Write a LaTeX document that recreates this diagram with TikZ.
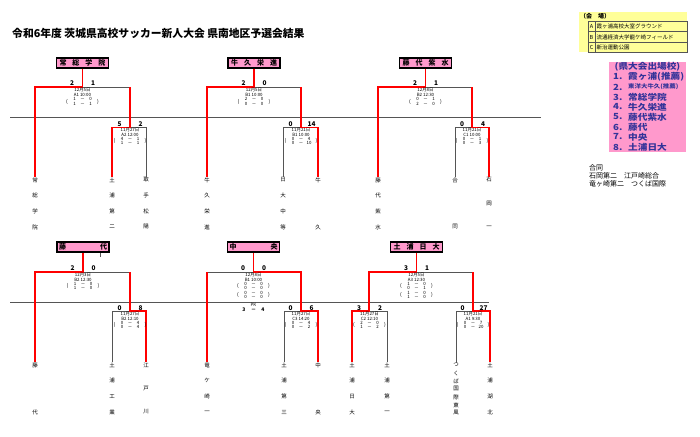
\documentclass[tikz,border=0pt]{standalone}
\usepackage{fontspec}
\usepackage{graphicx}
\setmainfont{Noto Sans CJK JP}
\newfontfamily\wideface[FakeStretch=1.15]{Noto Sans CJK JP}
\definecolor{pinkbox}{RGB}{255,153,204}
\definecolor{navy}{RGB}{51,51,153}
\definecolor{lightyel}{RGB}{255,255,153}
\definecolor{linegray}{RGB}{85,85,85}
\newcommand{\pts}[2]{\makebox[4pt]{#1}\makebox[12pt]{－}\makebox[4pt]{#2}}
\newcommand{\matchinfo}[7]{%
  \node[info] (#1-d) at (#2,#3) {#4};
  \node[info] (#1-c) at (#2,#3+5) {#5};
  \node[info] (#1-r1) at (#2,#3+9.3) {#6};
  \node[info] (#1-r2) at (#2,#3+13.8) {#7};
  \node[par] (#1-pl) at (#2-15.5,#3+11.5) {(};
  \node[par] (#1-pr) at (#2+15.5,#3+11.5) {)};
}

\begin{document}
\begin{tikzpicture}[x=1pt, y=-1pt,
    win/.style={draw=red, line width=1.4pt},
    lose/.style={draw=linegray, line width=0.7pt},
    sep/.style={draw=linegray, line width=0.8pt},
    champ/.style={draw=black, line width=1.2pt, fill=pinkbox, minimum width=52pt, minimum height=10pt, inner sep=0pt, font=\bfseries\fontsize{7}{7}\selectfont},
    score/.style={inner sep=0pt, font=\bfseries\fontsize{6.5}{6.5}\selectfont},
    info/.style={inner sep=0pt, font=\fontsize{4.4}{4.4}\selectfont},
    par/.style={inner sep=0pt, font=\fontsize{5}{5}\selectfont},
    team/.style={inner sep=0pt, font=\fontsize{5.5}{5.5}\selectfont},
    qual/.style={inner sep=0pt, text=navy, font=\wideface\bfseries\fontsize{8.4}{8.4}\selectfont},
    qsmall/.style={inner sep=0pt, text=navy, font=\wideface\bfseries\fontsize{5.6}{5.6}\selectfont},
    legend/.style={inner sep=0pt, font=\fontsize{5.5}{5.5}\selectfont}]
  \useasboundingbox (0,0) rectangle (700,436);

  \node[anchor=west, inner sep=0pt, font=\bfseries\fontsize{10.8}{10.8}\selectfont] (title) at (12,33) {令和6年度 茨城県高校サッカー新人大会 県南地区予選会結果};

  \draw[sep] (10,117) -- (541,117);
  \draw[sep] (10,302) -- (489,302);

  % top teams
  \foreach \ch [count=\i] in {常,総,学,院} \node[team] (js-\i) at (35,164.33+15.67*\i) {\ch};
  \foreach \ch [count=\i] in {土,浦,第,二} \node[team] (ud2-\i) at (112,164.33+15.67*\i) {\ch};
  \foreach \ch [count=\i] in {取,手,松,陽} \node[team] (ts-\i) at (146,164.33+15.67*\i) {\ch};
  \foreach \ch [count=\i] in {牛,久,栄,進} \node[team] (ue-\i) at (207,164.33+15.67*\i) {\ch};
  \foreach \ch [count=\i] in {日,大,中,等} \node[team] (nd-\i) at (283,164.33+15.67*\i) {\ch};
  \foreach \ch [count=\i] in {牛,久} \node[team] (uk-\i) at (318,133+47*\i) {\ch};
  \foreach \ch [count=\i] in {藤,代,紫,水} \node[team] (fs-\i) at (378,164.33+15.67*\i) {\ch};
  \foreach \ch [count=\i] in {合,同} \node[team] (go-\i) at (455,133+47*\i) {\ch};
  \foreach \ch [count=\i] in {石,岡,一} \node[team] (ia-\i) at (489,156.5+23.5*\i) {\ch};

  % bottom teams
  \foreach \ch [count=\i] in {藤,代} \node[team] (fj-\i) at (35,318+47*\i) {\ch};
  \foreach \ch [count=\i] in {土,浦,工,業} \node[team] (uko-\i) at (112,349.33+15.67*\i) {\ch};
  \foreach \ch [count=\i] in {江,戸,川} \node[team] (ed-\i) at (146,341.5+23.5*\i) {\ch};
  \foreach \ch [count=\i] in {竜,ケ,崎,一} \node[team] (ry-\i) at (207,349.33+15.67*\i) {\ch};
  \foreach \ch [count=\i] in {土,浦,第,三} \node[team] (ud3-\i) at (284,349.33+15.67*\i) {\ch};
  \foreach \ch [count=\i] in {中,央} \node[team] (cy-\i) at (318,318+47*\i) {\ch};
  \foreach \ch [count=\i] in {土,浦,日,大} \node[team] (una-\i) at (352,349.33+15.67*\i) {\ch};
  \foreach \ch [count=\i] in {土,浦,第,一} \node[team] (ud1-\i) at (387,349.33+15.67*\i) {\ch};
  \foreach \ch [count=\i] in {つ,く,ば,国,際,東,風} \node[team] (tk-\i) at (456,357+8*\i) {\ch};
  \foreach \ch [count=\i] in {土,浦,湖,北} \node[team] (uh-\i) at (490,349.33+15.67*\i) {\ch};

  % winners
  \node[champ] (w1) at (82.5,63) {\makebox[46pt]{常\hfill 総\hfill 学\hfill 院}};
  \node[champ] (w2) at (254,63) {\makebox[46pt]{牛\hfill 久\hfill 栄\hfill 進}};
  \node[champ] (w3) at (425.5,63) {\makebox[46pt]{藤\hfill 代\hfill 紫\hfill 水}};
  \node[champ] (w4) at (83,247) {\makebox[48pt]{藤\hfill 代}};
  \node[champ] (w5) at (253.5,247) {\makebox[48pt]{中\hfill 央}};
  \node[champ] (w6) at (416.5,247) {\makebox[46pt]{土\hfill 浦\hfill 日\hfill 大}};
  \draw[lose, line width=0.4pt] (100,253) -- (100,257);

  % joints
  \coordinate (j1) at (82.5,87); \coordinate (j1l) at (35,87); \coordinate (j1r) at (130,87);
  \coordinate (k1) at (130,127.3); \coordinate (k1l) at (112,127.3); \coordinate (k1r) at (146,127.3);
  \coordinate (j2) at (254,87); \coordinate (j2l) at (207,87); \coordinate (j2r) at (301,87);
  \coordinate (k2) at (301,127.3); \coordinate (k2l) at (283,127.3); \coordinate (k2r) at (318,127.3);
  \coordinate (j3) at (425.5,87); \coordinate (j3l) at (378,87); \coordinate (j3r) at (472,87);
  \coordinate (k3) at (472,127.3); \coordinate (k3l) at (455,127.3); \coordinate (k3r) at (489,127.3);
  \coordinate (j4) at (83,272); \coordinate (j4l) at (35,272); \coordinate (j4r) at (130,272);
  \coordinate (k4) at (130,311); \coordinate (k4l) at (112,311); \coordinate (k4r) at (146,311);
  \coordinate (j5) at (253.5,272); \coordinate (j5l) at (207,272); \coordinate (j5r) at (301,272);
  \coordinate (k5) at (301,311); \coordinate (k5l) at (284,311); \coordinate (k5r) at (318,311);
  \coordinate (j6) at (416.5,272); \coordinate (j6l) at (369,272); \coordinate (j6r) at (473,272);
  \coordinate (k6) at (369,311); \coordinate (k6l) at (352,311); \coordinate (k6r) at (387,311);
  \coordinate (k7) at (473,311); \coordinate (k7l) at (456,311); \coordinate (k7r) at (490,311);

  \draw[lose] (j1) -- (j1r);
  \draw[lose] (k1) -- (k1r) -- (ts-1.north);
  \draw[lose] (j2) -- (j2r);
  \draw[lose] (k2) -- (k2l) -- (nd-1.north);
  \draw[lose] (j3) -- (j3r);
  \draw[lose] (k3) -- (k3l) -- (go-1.north);
  \draw[lose] (j4) -- (j4r);
  \draw[lose] (k4) -- (k4l) -- (uko-1.north);
  \draw[lose] (j5) -- (j5l);
  \draw[lose] (k5) -- (k5l) -- (ud3-1.north);
  \draw[lose] (j6) -- (j6r);
  \draw[lose] (k6) -- (k6r) -- (ud1-1.north);
  \draw[lose] (k7) -- (k7l) -- (tk-1.north);

  \draw[win] (w1.south) -- (j1) -- (j1l) -- (js-1.north);
  \draw[win] (j1r) -- (k1) -- (k1l) -- (ud2-1.north);
  \draw[win] (w2.south) -- (j2) -- (j2l) -- (ue-1.north);
  \draw[win] (j2r) -- (k2) -- (k2r) -- (uk-1.north);
  \draw[win] (w3.south) -- (j3) -- (j3l) -- (fs-1.north);
  \draw[win] (j3r) -- (k3) -- (k3r) -- (ia-1.north);
  \draw[win] (w4.south) -- (j4) -- (j4l) -- (fj-1.north);
  \draw[win] (j4r) -- (k4) -- (k4r) -- (ed-1.north);
  \draw[win] (j5l) -- (ry-1.north);
  \draw[win] (w5.south) -- (j5) -- (j5r) -- (k5) -- (k5r) -- (cy-1.north);
  \draw[win] (w6.south) -- (j6) -- (j6l) -- (k6) -- (k6l) -- (una-1.north);
  \draw[win] (j6r) -- (k7) -- (k7r) -- (uh-1.north);

  % scores
  \node[score] (m1-a) at (72,83.3) {2};   \node[score] (m1-b) at (93,83.3) {1};
  \node[score] (m1s-a) at (119.5,124) {5}; \node[score] (m1s-b) at (140.5,124) {2};
  \node[score] (m2-a) at (243.5,83.3) {2}; \node[score] (m2-b) at (264.5,83.3) {0};
  \node[score] (m2s-a) at (290.5,124) {0}; \node[score] (m2s-b) at (311.5,124) {14};
  \node[score] (m3-a) at (415,83.3) {2};   \node[score] (m3-b) at (436,83.3) {1};
  \node[score] (m3s-a) at (462,124) {0};   \node[score] (m3s-b) at (483,124) {4};
  \node[score] (m4-a) at (72.5,268) {2};   \node[score] (m4-b) at (93.5,268) {0};
  \node[score] (m4s-a) at (119.5,308) {0}; \node[score] (m4s-b) at (140.5,308) {8};
  \node[score] (m5-a) at (243,268) {0};    \node[score] (m5-b) at (264,268) {0};
  \node[score] (m5s-a) at (290.5,308) {0}; \node[score] (m5s-b) at (311.5,308) {6};
  \node[score] (m6-a) at (406,268) {3};    \node[score] (m6-b) at (427,268) {1};
  \node[score] (m6l-a) at (359,308) {3};   \node[score] (m6l-b) at (380,308) {2};
  \node[score] (m6r-a) at (462.5,308) {0}; \node[score] (m6r-b) at (483.5,308) {27};

  % match details
  \matchinfo{m1}{82.5}{90}{12月5日}{A1 10:00}{\pts{1}{0}}{\pts{1}{1}}
  \matchinfo{m1s}{130}{129.5}{11月27日}{A2 12:00}{\pts{4}{1}}{\pts{1}{1}}
  \matchinfo{m2}{254}{90}{12月5日}{B1 10:00}{\pts{2}{0}}{\pts{0}{0}}
  \matchinfo{m2s}{301}{129.5}{11月21日}{B1 10:00}{\pts{0}{4}}{\pts{0}{10}}
  \matchinfo{m3}{425.5}{90}{12月8日}{B2 12:30}{\pts{0}{1}}{\pts{2}{0}}
  \matchinfo{m3s}{472}{129.5}{11月21日}{C1 10:00}{\pts{0}{1}}{\pts{0}{3}}
  \matchinfo{m4}{83}{274.5}{12月3日}{B2 12:30}{\pts{1}{0}}{\pts{1}{0}}
  \matchinfo{m4s}{130}{313.5}{11月27日}{B2 12:10}{\pts{0}{4}}{\pts{0}{4}}
  \matchinfo{m5}{253.5}{274.5}{12月8日}{B1 10:00}{\pts{0}{0}}{\pts{0}{0}}
  \node[info] (m5-r3) at (253.5,292.8) {\pts{0}{0}};
  \node[info] (m5-r4) at (253.5,297.3) {\pts{0}{0}};
  \node[par] (m5-ql) at (238,295) {(}; \node[par] (m5-qr) at (269,295) {)};
  \node[info] (m5-pk) at (253.5,304.5) {PK};
  \node[inner sep=0pt, font=\bfseries\fontsize{5}{5}\selectfont] (m5-pks) at (253.5,309.3) {\makebox[5pt]{3}\makebox[14pt]{－}\makebox[5pt]{4}};
  \matchinfo{m5s}{301}{313.5}{11月27日}{C3 14:20}{\pts{0}{4}}{\pts{0}{2}}
  \matchinfo{m6}{416.5}{274.5}{12月5日}{A3 12:30}{\pts{1}{0}}{\pts{0}{1}}
  \node[info] (m6-r3) at (416.5,292.8) {\pts{1}{0}};
  \node[info] (m6-r4) at (416.5,297.3) {\pts{1}{0}};
  \node[par] (m6-ql) at (401,295) {(}; \node[par] (m6-qr) at (432,295) {)};
  \matchinfo{m6l}{369.5}{313.5}{11月27日}{C2 12:10}{\pts{2}{0}}{\pts{1}{2}}
  \matchinfo{m6r}{473}{313.5}{11月21日}{A1 9:30}{\pts{0}{7}}{\pts{0}{20}}

  % venues
  \fill[lightyel] (579,12) rectangle (687,52.3);
  \node[anchor=west, inner sep=0pt, font=\bfseries\fontsize{6}{6}\selectfont] (venue) at (580,16.5) {（会　場）};
  \draw[linegray, line width=0.6pt] (588,21.7) rectangle (687,52.3);
  \draw[linegray, line width=0.6pt] (588,31.7) -- (687,31.7);
  \draw[linegray, line width=0.6pt] (588,42.3) -- (687,42.3);
  \draw[linegray, line width=0.6pt] (595,21.7) -- (595,52.3);
  \node[legend] (va) at (591.5,26.7) {A};
  \node[legend] (vb) at (591.5,37) {B};
  \node[legend] (vc) at (591.5,47.3) {C};
  \node[legend, anchor=west] (vat) at (596.5,26.7) {霞ヶ浦高校大室グラウンド};
  \node[legend, anchor=west] (vbt) at (596.5,37) {流通経済大学龍ケ崎フィールド};
  \node[legend, anchor=west] (vct) at (596.5,47.3) {新治運動公園};

  % qualified
  \fill[pinkbox] (609,62) rectangle (686,152);
  \node[qual] (qh) at (647.5,67) {(県大会出場校)};
  \node[qual, anchor=west] (qn1) at (613,77) {1.};
  \node[qual, anchor=west] (qs1) at (628,77) {霞ヶ浦(推薦)};
  \node[qual, anchor=west] (qn2) at (613,87) {2.};
  \node[qsmall, anchor=west] (qs2) at (628,87) {東洋大牛久(推薦)};
  \foreach \s [count=\i from 3] in {常総学院,牛久栄進,藤代紫水,藤代,中央,土浦日大} {
    \node[qual, anchor=west] (qn\i) at (613,67+10*\i) {\i.};
    \node[qual, anchor=west] (qs\i) at (628,67+10*\i) {\s};
  }

  \node[anchor=west, inner sep=0pt, font=\fontsize{7}{7}\selectfont] (joint1) at (589,167.5) {合同};
  \node[anchor=west, inner sep=0pt, font=\fontsize{7}{7}\selectfont] (joint2) at (589,175.5) {石岡第二　江戸崎総合};
  \node[anchor=west, inner sep=0pt, font=\fontsize{7}{7}\selectfont] (joint3) at (589,183.5) {竜ヶ崎第二　つくば国際};
\end{tikzpicture}
\end{document}
